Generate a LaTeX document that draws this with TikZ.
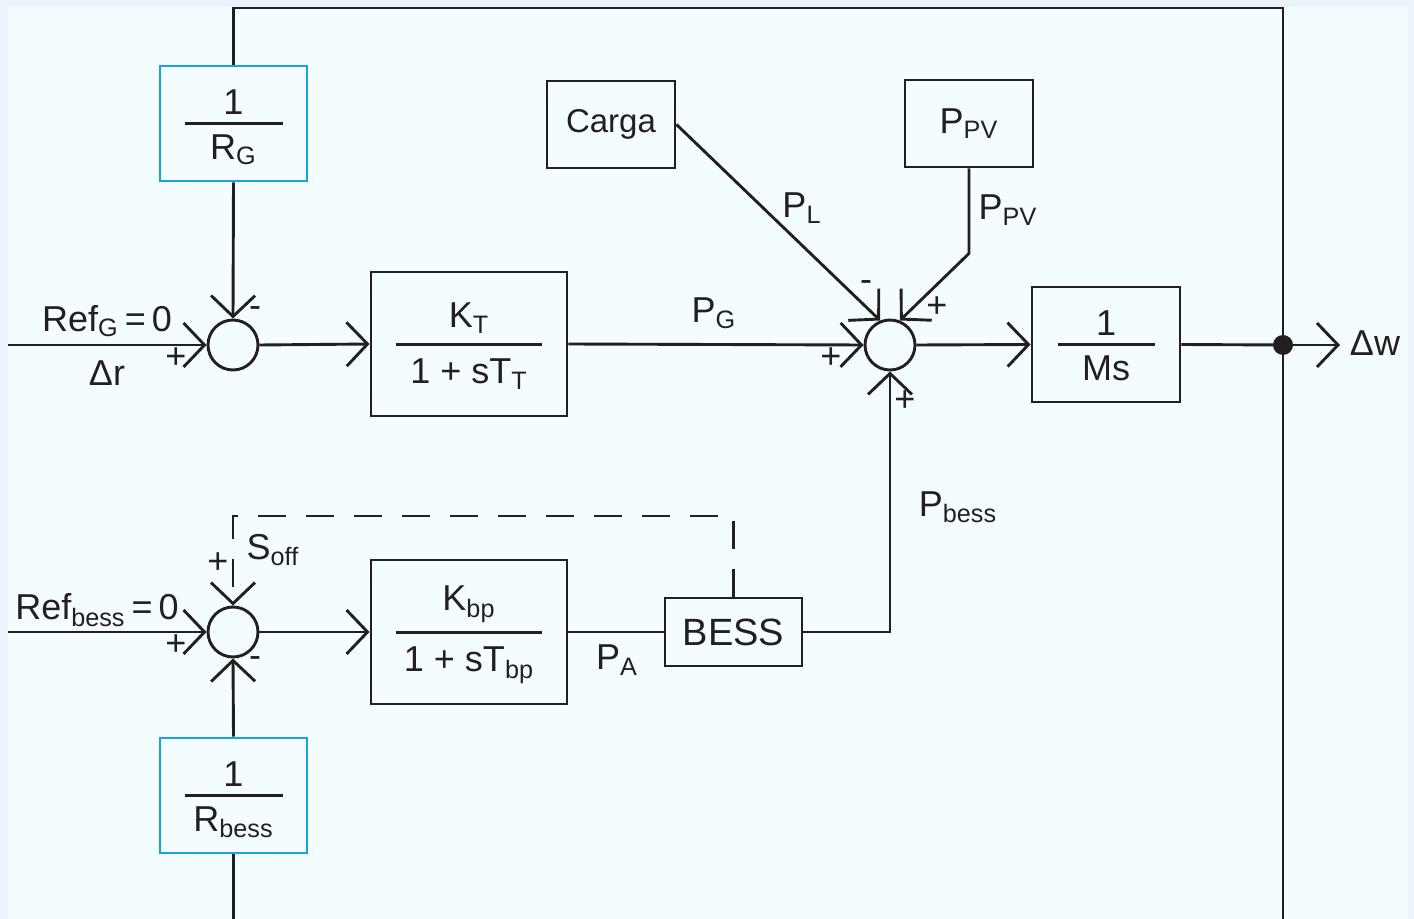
\documentclass[tikz,border=0pt]{standalone}
\usepackage{amsmath}
\usepackage{fontspec}
\setmainfont{Liberation Sans}
\usetikzlibrary{arrows.meta}
\definecolor{bgout}{RGB}{236,244,251}
\definecolor{bgin}{RGB}{243,253,255}
\definecolor{ink}{RGB}{35,31,32}
\definecolor{rblue}{RGB}{25,160,230}
\newcommand{\lbl}{\fontsize{18}{22}\selectfont}
\newcommand{\tf}[3]{$\genfrac{}{}{1.4pt}{0}{\makebox[#1]{#2}}{\mbox{#3}}$}

\begin{document}
\begin{tikzpicture}[x=0.5pt,y=-0.5pt,line width=1.45pt,color=ink,font=\lbl,
  sig/.style={-{Straight Barb[length=10.5pt,width=22pt]}},
  blk/.style={draw,inner sep=0pt},
  frc/.style={text height=30pt,text depth=21pt},
  gain/.style={blk,frc,draw=rblue,minimum width=73.5pt,minimum height=57.5pt},
  tfblk/.style={blk,frc,minimum width=98pt,minimum height=72pt},
  sumj/.style={circle,draw,minimum size=25pt,inner sep=0pt}]
  \useasboundingbox (0,0) rectangle (1414,919);
  \fill[bgout] (0,0) rectangle (1414,919);
  \fill[bgin] (8,7) rectangle (1408,919);
  % blocks
  \node[gain] (rg) at (233.5,123.5) {\tf{49pt}{\raisebox{-3.5pt}{1}}{\raisebox{-1.5pt}{R\textsubscript{G}}}};
  \node[gain] (rbess) at (233.5,795.5) {\tf{49pt}{\raisebox{-3.5pt}{1}}{\raisebox{-1.5pt}{R\textsubscript{bess}}}};
  \node[tfblk] (kt) at (469,344) {\tf{73pt}{\raisebox{1pt}{K\textsubscript{T}}}{\raisebox{-3.5pt}{1 + sT\textsubscript{T}}}};
  \node[tfblk] (kbp) at (469,632) {\tf{73pt}{\raisebox{1pt}{K\textsubscript{bp}}}{\raisebox{-3.5pt}{1 + sT\textsubscript{bp}}}};
  \node[blk,frc,minimum width=74pt,minimum height=57.5pt] (ms) at (1106,344.5) {\tf{48.5pt}{\raisebox{-3.5pt}{1}}{\raisebox{-1.5pt}{Ms}}};
  \node[blk,minimum width=64pt,minimum height=43.5pt,font=\fontsize{16.5}{20}\selectfont] (carga) at (611,124.5) {Carga};
  \node[blk,minimum width=64pt,minimum height=43.5pt] (ppv) at (969,123.5) {P\textsubscript{PV}};
  \node[blk,minimum width=68.5pt,minimum height=34pt,font=\fontsize{19}{23}\selectfont] (bess) at (733.5,632) {BESS};
  \node[sumj] (s1) at (233,345) {};
  \node[sumj] (s2) at (890,345) {};
  \node[sumj] (s3) at (233,632) {};
  \coordinate (inG) at (8,345);
  \coordinate (inB) at (8,632);
  \coordinate (jn) at (1283,345);
  \coordinate (out) at (1340,345);
  \coordinate (tr) at (1283,8);
  \coordinate (br) at (1283,920);
  \coordinate (dk) at (233,516);
  % signals
  \draw[sig] (inG) -- (s1.west);
  \draw[sig] (rg.south) -- (s1.north);
  \draw[sig] (s1.east) -- (kt.west);
  \draw[sig] (kt.east) -- (s2.west);
  \draw[sig] (carga.east) -- (s2.112);
  \draw[sig] (ppv.south) -- ++(0,85) -- (s2.68);
  \draw[sig] (bess.east) -| (s2.south);
  \draw[sig] (s2.east) -- (ms.west);
  \draw (ms.east) -- (jn);
  \draw[sig] (jn) -- (out);
  \fill (jn) circle (5pt);
  \draw (rg.north) |- (tr) -- (br) -| (rbess.south);
  \draw[sig] (inB) -- (s3.west);
  \draw[sig] (rbess.north) -- (s3.south);
  \draw[sig] (s3.east) -- (kbp.west);
  \draw (kbp.east) -- (bess.west);
  \draw[sig,dash pattern=on 14pt off 10pt] (bess.north) |- (dk) -- (s3.north);
  % labels
  \node (lrefg) at (107,321) {Ref\textsubscript{G}\,=\,0};
  \node (ldr) at (107,373) {Δr};
  \node (lp1) at (176,358) {+};
  \node (lm1) at (255,312) {-};
  \node (lpg) at (714,313) {P\textsubscript{G}};
  \node (lpl) at (802,208) {P\textsubscript{L}};
  \node (lppv) at (1008,210) {P\textsubscript{PV}};
  \node (lm2) at (866,286) {-};
  \node (lp2) at (937,307) {+};
  \node (lp3) at (831,358) {+};
  \node (lp4) at (905,401) {+};
  \node (ldw) at (1375,343) {Δw};
  \node (lpb) at (958,507) {P\textsubscript{bess}};
  \node (lsoff) at (273,550) {S\textsubscript{off}};
  \node (lp5) at (218,563) {+};
  \node (lrefb) at (97,610) {Ref\textsubscript{bess}\,=\,0};
  \node (lp6) at (176,645) {+};
  \node (lm3) at (255,662) {-};
  \node (lpa) at (617,660) {P\textsubscript{A}};
\end{tikzpicture}
\end{document}
